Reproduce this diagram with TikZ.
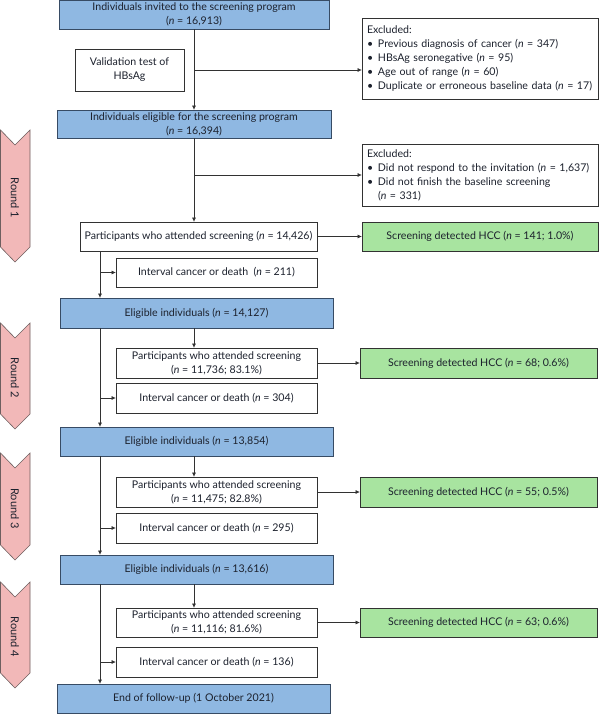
\documentclass[tikz,border=0pt]{standalone}
\usepackage{fontspec}
\setmainfont{Lato}
\usetikzlibrary{arrows.meta}
\definecolor{bluef}{RGB}{143,184,226}
\definecolor{blued}{RGB}{55,75,100}
\definecolor{greenf}{RGB}{168,228,160}
\definecolor{pinkf}{RGB}{242,184,184}
\definecolor{pinkd}{RGB}{110,95,95}
\definecolor{txt}{RGB}{28,33,45}
\definecolor{ln}{RGB}{50,50,50}
\newcommand\bxnode[7]{\node[#1, minimum width={#5-#3}, minimum height={#6-#4}] (#2) at ({(#3+#5)/2},{(#4+#6)/2}) {#7};}
\newcommand\roundarr[4]{%
  \draw[roundarrow] (0.5,#2) -- (15,{#2+15}) -- (30,#2) -- (30,{#3-15}) -- (15,#3) -- (0.5,{#3-15}) -- cycle;
  \node[rotate=-90, font=\fontsize{11}{12}\selectfont] (#1) at (15,{(#2+#3)/2+2}) {#4};}
\newcommand\bul{\makebox[11pt][l]{\textbullet}}
\newcommand\nn{\textit{n}}
\begin{document}
\begin{tikzpicture}[x=1pt,y=-1pt,
  font=\fontsize{10.6}{14}\selectfont,
  every node/.style={text=txt},
  box/.style={draw=ln, line width=0.8pt, inner sep=0pt, align=center},
  bluebox/.style={box, fill=bluef, draw=blued},
  greenbox/.style={box, fill=greenf},
  whitebox/.style={box, fill=white},
  exclbox/.style={box, fill=white, align=left, text width=226pt},
  conn/.style={draw=ln, line width=0.7pt},
  arr/.style={conn, -{Triangle[length=4pt,width=3.5pt]}},
  roundarrow/.style={draw=pinkd, fill=pinkf, line width=0.6pt}
]
\useasboundingbox (0,0) rectangle (600,714);
\fill[white] (0,0) rectangle (600,714);
\coordinate (lx) at (100,0);
\coordinate (cx) at (194,0);

% round arrows
\roundarr{r1}{130}{262}{Round 1}
\roundarr{r2}{323}{429}{Round 2}
\roundarr{r3}{453}{560}{Round 3}
\roundarr{r4}{582}{688}{Round 4}

% top part
\bxnode{bluebox}{top}{59}{0.5}{329}{29}{Individuals invited to the screening program\\(\nn{} = 16,913)}
\bxnode{whitebox}{valid}{75}{49}{184}{91}{Validation test of\\HBsAg}
\bxnode{exclbox}{excl1}{362}{18}{598}{99}{Excluded:\\\bul Previous diagnosis of cancer (\nn{} = 347)\\\bul HBsAg seronegative (\nn{} = 95)\\\bul Age out of range (\nn{} = 60)\\\bul Duplicate or erroneous baseline data (\nn{} = 17)}
\bxnode{bluebox}{elig0}{57}{110}{331}{138}{Individuals eligible for the screening program\\(\nn{} = 16,394)}
\bxnode{exclbox}{excl2}{362}{144}{598}{206}{Excluded:\\\bul Did not respond to the invitation (\nn{} = 1,637)\\\bul Did not finish the baseline screening\\\hspace*{11pt}(\nn{} = 331)}

% round 1
\bxnode{whitebox}{part1}{80}{222}{317}{251}{Participants who attended screening (\nn{} = 14,426)}
\bxnode{greenbox}{hcc1}{362}{222}{598}{251}{Screening detected HCC (\nn{} = 141; 1.0\%)}
\bxnode{whitebox}{int1}{116}{258}{317}{287}{Interval cancer or death\ \ (\nn{} = 211)}
\bxnode{bluebox}{elig1}{60}{298}{333}{328}{Eligible individuals (\nn{} = 14,127)}

% round 2
\bxnode{whitebox}{part2}{116}{348}{317}{378}{Participants who attended screening\\(\nn{} = 11,736; 83.1\%)}
\bxnode{greenbox}{hcc2}{360}{348}{597}{378}{Screening detected HCC (\nn{} = 68; 0.6\%)}
\bxnode{whitebox}{int2}{116}{383}{317}{413}{Interval cancer or death (\nn{} = 304)}
\bxnode{bluebox}{elig2}{60}{427}{333}{456}{Eligible individuals (\nn{} = 13,854)}

% round 3
\bxnode{whitebox}{part3}{116}{477}{317}{507}{Participants who attended screening\\(\nn{} = 11,475; 82.8\%)}
\bxnode{greenbox}{hcc3}{360}{477}{597}{507}{Screening detected HCC (\nn{} = 55; 0.5\%)}
\bxnode{whitebox}{int3}{116}{513}{317}{543}{Interval cancer or death (\nn{} = 295)}
\bxnode{bluebox}{elig3}{60}{555}{333}{584}{Eligible individuals (\nn{} = 13,616)}

% round 4
\bxnode{whitebox}{part4}{116}{608}{317}{637}{Participants who attended screening\\(\nn{} = 11,116; 81.6\%)}
\bxnode{greenbox}{hcc4}{360}{608}{597}{637}{Screening detected HCC (\nn{} = 63; 0.6\%)}
\bxnode{whitebox}{int4}{116}{647}{317}{677}{Interval cancer or death (\nn{} = 136)}
\bxnode{bluebox}{endf}{57}{684}{330}{713}{End of follow-up (1 October 2021)}

% connectors
\draw[arr] (top.south -| cx) -- (elig0.north -| cx);
\draw[arr] (cx |- valid.east) -- (excl1.west |- valid.east);
\draw[arr] (elig0.south -| cx) -- (part1.north -| cx);
\draw[arr] (cx |- excl2.west) -- (excl2.west);
\draw[arr] (part1.east) -- (hcc1.west);
\draw[arr] (part1.south -| lx) -- (elig1.north -| lx);
\draw[arr] (lx |- int1.west) -- (int1.west);

\draw[arr] (elig1.south -| cx) -- (part2.north -| cx);
\draw[arr] (part2.east) -- (hcc2.west);
\draw[arr] (elig1.south -| lx) -- (elig2.north -| lx);
\draw[arr] (lx |- int2.west) -- (int2.west);

\draw[arr] (elig2.south -| cx) -- (part3.north -| cx);
\draw[arr] (part3.east) -- (hcc3.west);
\draw[arr] (elig2.south -| lx) -- (elig3.north -| lx);
\draw[arr] (lx |- int3.west) -- (int3.west);

\draw[arr] (elig3.south -| cx) -- (part4.north -| cx);
\draw[arr] (part4.east) -- (hcc4.west);
\draw[arr] (elig3.south -| lx) -- (endf.north -| lx);
\draw[arr] (lx |- int4.west) -- (int4.west);
\end{tikzpicture}
\end{document}
